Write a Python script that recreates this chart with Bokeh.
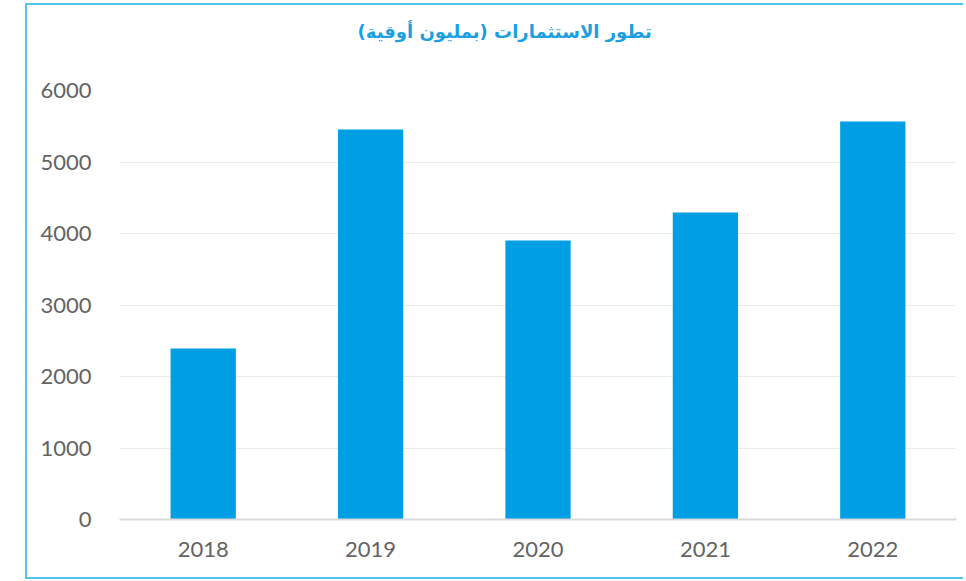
from bokeh.plotting import figure
from bokeh.models import Range1d, FactorRange, Spacer, Title
from bokeh.layouts import column, row
from bokeh.embed import file_html
from bokeh.resources import INLINE

years = ["2018", "2019", "2020", "2021", "2022"]
investments = [2392, 5454, 3902, 4294, 5566]
y_ticks = [0, 1000, 2000, 3000, 4000, 5000, 6000]
title_text = "تطور الاستثمارات (بمليون أوقية)"

p = figure(x_range=FactorRange(*years, range_padding=0), y_range=Range1d(0, 6000),
           width=938, height=576, output_backend="svg", toolbar_location=None,
           min_border_left=92, min_border_right=9, min_border_top=85, min_border_bottom=62)

p.vbar(x=years, top=investments, width=0.39, color="#009FE3", line_color=None)

p.outline_line_color = None
p.background_fill_color = "white"
p.border_fill_color = "white"

p.xgrid.grid_line_color = None
p.ygrid.grid_line_color = "#EBEBEB"
p.ygrid.grid_line_width = 1

p.yaxis.ticker = y_ticks
p.yaxis.axis_line_color = None
p.yaxis.major_tick_line_color = None
p.yaxis.minor_tick_line_color = None
p.yaxis.major_label_standoff = 22
p.yaxis.major_label_text_font = "Lato"
p.yaxis.major_label_text_font_size = "22px"
p.yaxis.major_label_text_color = "#636363"

p.xaxis.axis_line_color = "#D9D9D9"
p.xaxis.axis_line_width = 2
p.xaxis.major_tick_line_color = None
p.xaxis.minor_tick_line_color = None
p.xaxis.major_label_standoff = 16
p.xaxis.major_label_text_font = "Lato"
p.xaxis.major_label_text_font_size = "22px"
p.xaxis.major_label_text_color = "#636363"

# spacer between title and plot area
p.add_layout(Title(text=" ", text_font_size="1px", standoff=29), "above")

p.title.text = title_text
p.title.align = "left"
p.title.vertical_align = "top"
p.title.offset = 238
p.title.standoff = 30
p.title.text_font = "DejaVu Sans"
p.title.text_font_style = "bold"
p.title.text_font_size = "18px"
p.title.text_color = "#1A9FE0"

p.styles = {"border-left": "2px solid #55C1EE",
            "border-top": "2px solid #55C1EE",
            "border-bottom": "2px solid #55C1EE"}

layout = column(Spacer(height=3), row(Spacer(width=25), p))

open("out.html", "w").write(file_html(layout, INLINE))
